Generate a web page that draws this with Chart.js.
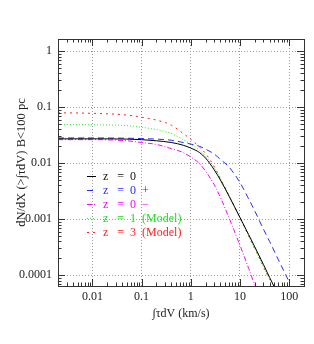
<!DOCTYPE html>
<html>
<head>
<meta charset="utf-8">
<script src="https://cdn.jsdelivr.net/npm/chart.js@4.4.1/dist/chart.umd.min.js"></script>
<style>
  html, body { margin: 0; padding: 0; background: #fff; }
</style>
</head>
<body>
<canvas id="myChart" width="314" height="344"></canvas>
<script>
'use strict';

// integrated optical depth, km/s
let tauDV = [0.002, 0.01, 0.05, 0.1, 0.2, 0.4, 0.7, 1, 1.5, 2, 3, 4, 6, 10, 15, 20, 30, 40, 60, 100];

let zZero = [0.0272, 0.0272, 0.0269, 0.0263, 0.0251, 0.0234, 0.0209, 0.0186, 0.0155, 0.0123, 0.0076, 0.0050, 0.00257, 0.00107, 0.00053, 0.00032, 0.000155, 0.000091, 0.000044, null];
let zZeroPlus = [0.0282, 0.0282, 0.0279, 0.0275, 0.0269, 0.0257, 0.0234, 0.0219, 0.0200, 0.0178, 0.0145, 0.0117, 0.0085, 0.0045, 0.0023, 0.0014, 0.00066, 0.0004, 0.00019, 0.000076];
let zZeroMinus = [0.0263, 0.0263, 0.0251, 0.0234, 0.0216, 0.0182, 0.0155, 0.0129, 0.0098, 0.0072, 0.0041, 0.00245, 0.00105, 0.00034, 0.000132, 0.000066, null, null, null, null];
let zOneModel = [0.049, 0.0484, 0.0468, 0.0437, 0.0398, 0.0339, 0.0263, 0.0219, 0.0170, 0.0132, 0.0083, 0.0053, 0.00263, 0.00105, 0.0005, 0.000295, 0.000141, 0.000083, null, null];
let zThreeModel = [0.0794, 0.0776, 0.0724, 0.0661, 0.0589, 0.0479, 0.0339, 0.0266, 0.0195, 0.0148, 0.0087, 0.0053, 0.00263, 0.00105, 0.0005, 0.000295, 0.000141, 0.000083, null, null];

let seriesLabels = ['z   =  0', 'z   =  0  +', 'z   =  0  \u2212', 'z   =  1  (Model)', 'z   =  3  (Model)'];

let xTickVals = [0.01, 0.1, 1, 10, 100];
let xTickLabels = ['0.01', '0.1', '1', '10', '100'];
let yTickVals = [0.0001, 0.001, 0.01, 0.1, 1];
let yTickLabels = ['0.0001', '0.001', '0.01', '0.1', '1'];

let xMin = 0.002;
let xMax = 200;
let yMin = 0.000064;
let yMax = 1.65;

const serif = 'Liberation Serif';

function pairs(ys) {
  return tauDV.map((x, i) => ({ x: x, y: ys[i] }));
}

function sameValue(a, b) {
  return Math.abs(Math.log10(a) - Math.log10(b)) < 1e-6;
}

function findLabel(v, vals, labels) {
  for (let i = 0; i < vals.length; i++) {
    if (sameValue(v, vals[i])) {
      return labels[i];
    }
  }
  return '';
}

function isMajor(v, vals) {
  return vals.some(t => sameValue(v, t));
}

// 1..9 x 10^n between min and max
function logTicks(min, max) {
  let out = [];
  for (let e = Math.floor(Math.log10(min)); e <= Math.ceil(Math.log10(max)); e++) {
    for (let k = 1; k <= 9; k++) {
      let v = Number((k * Math.pow(10, e)).toPrecision(6));
      if (v >= min * 0.999 && v <= max * 1.001) {
        out.push(v);
      }
    }
  }
  return out;
}

const frameAndTicks = {
  id: 'frameAndTicks',
  afterDatasetsDraw(chart) {
    let ctx = chart.ctx;
    let area = chart.chartArea;
    let xs = chart.scales.x;
    let ys = chart.scales.y;
    ctx.save();
    ctx.strokeStyle = '#333';
    ctx.lineWidth = 1;
    ctx.setLineDash([]);
    ctx.beginPath();
    xs.ticks.forEach(t => {
      let len = isMajor(t.value, xTickVals) ? 7 : 3.5;
      let px = Math.round(xs.getPixelForValue(t.value)) + 0.5;
      ctx.moveTo(px, area.bottom);
      ctx.lineTo(px, area.bottom - len);
      ctx.moveTo(px, area.top);
      ctx.lineTo(px, area.top + len);
    });
    ys.ticks.forEach(t => {
      let len = isMajor(t.value, yTickVals) ? 7 : 3.5;
      let py = Math.round(ys.getPixelForValue(t.value)) + 0.5;
      ctx.moveTo(area.left, py);
      ctx.lineTo(area.left + len, py);
      ctx.moveTo(area.right, py);
      ctx.lineTo(area.right - len, py);
    });
    ctx.stroke();
    ctx.strokeRect(Math.round(area.left) + 0.5, Math.round(area.top) + 0.5,
      Math.round(area.right - area.left), Math.round(area.bottom - area.top));
    ctx.restore();
  }
};

const insideLegend = {
  id: 'insideLegend',
  afterDatasetsDraw(chart) {
    let ctx = chart.ctx;
    let area = chart.chartArea;
    ctx.save();
    ctx.font = '12px "' + serif + '"';
    ctx.textBaseline = 'middle';
    chart.data.datasets.forEach((ds, i) => {
      let y = Math.round(area.top + 137 + i * 14) + 0.5;
      let x0 = area.left + 29;
      ctx.strokeStyle = ds.borderColor;
      ctx.lineWidth = 1;
      ctx.setLineDash(ds.borderDash || []);
      ctx.beginPath();
      ctx.moveTo(x0, y);
      ctx.lineTo(x0 + 9, y);
      ctx.stroke();
      ctx.setLineDash([]);
      ctx.fillStyle = ds.textColor;
      ctx.fillText(ds.label, x0 + 16, y);
    });
    ctx.restore();
  }
};

function makeSet(i, ys, color, textColor, dash) {
  return {
    label: seriesLabels[i],
    data: pairs(ys),
    borderColor: color,
    textColor: textColor,
    borderDash: dash,
    borderWidth: 1,
    pointRadius: 0,
    fill: false,
    spanGaps: false,
    cubicInterpolationMode: 'monotone',
  };
}

const chartData = {
  datasets: [
    makeSet(0, zZero, '#000000', '#111111', []),
    makeSet(1, zZeroPlus, '#2a2aff', '#2a2aff', [6, 4]),
    makeSet(2, zZeroMinus, '#ff00ff', '#ff00ff', [5, 2, 1, 2]),
    makeSet(3, zOneModel, '#22ee22', '#22dd22', [1, 2]),
    makeSet(4, zThreeModel, '#ff2020', '#ff2020', [2, 4]),
  ],
};

const config = {
  type: 'line',
  data: chartData,
  options: {
    responsive: false,
    animation: false,
    layout: { padding: { top: 39, right: 10, left: 0, bottom: 0 } },
    plugins: {
      legend: { display: false },
      tooltip: { enabled: false },
    },
    scales: {
      x: {
        type: 'logarithmic',
        min: xMin,
        max: xMax,
        afterBuildTicks: s => { s.ticks = logTicks(xMin, xMax).map(v => ({ value: v })); },
        afterFit: s => { s.height = 58; },
        ticks: {
          autoSkip: false,
          maxRotation: 0,
          padding: 4,
          color: '#222',
          font: { family: serif, size: 12 },
          callback: v => findLabel(v, xTickVals, xTickLabels),
        },
        grid: {
          drawTicks: false,
          lineWidth: 1,
          color: c => (c.tick && isMajor(c.tick.value, xTickVals)) ? '#9a9a9a' : 'rgba(0,0,0,0)',
        },
        border: { display: false, dash: [1, 2] },
        title: {
          display: true,
          text: '\u222B\u03C4dV (km/s)',
          color: '#222',
          font: { family: serif, size: 12 },
          padding: { top: 0, bottom: 23 },
        },
      },
      y: {
        type: 'logarithmic',
        min: yMin,
        max: yMax,
        afterBuildTicks: s => { s.ticks = logTicks(yMin, yMax).map(v => ({ value: v })); },
        afterFit: s => { s.width = 58; },
        ticks: {
          autoSkip: false,
          padding: 6,
          color: '#222',
          font: { family: serif, size: 12 },
          callback: v => findLabel(v, yTickVals, yTickLabels),
        },
        grid: {
          drawTicks: false,
          lineWidth: 1,
          color: c => (c.tick && isMajor(c.tick.value, yTickVals)) ? '#9a9a9a' : 'rgba(0,0,0,0)',
        },
        border: { display: false, dash: [1, 2] },
        title: {
          display: true,
          text: 'dN/dX (>\u222B\u03C4dV) B<100 pc',
          color: '#222',
          font: { family: serif, size: 12.5 },
          padding: { top: 14, bottom: 0 },
        },
      },
    },
  },
  plugins: [frameAndTicks, insideLegend],
};

let chartCanvas = document.getElementById('myChart').getContext('2d');
const myChart = new Chart(chartCanvas, config);
</script>
</body>
</html>
